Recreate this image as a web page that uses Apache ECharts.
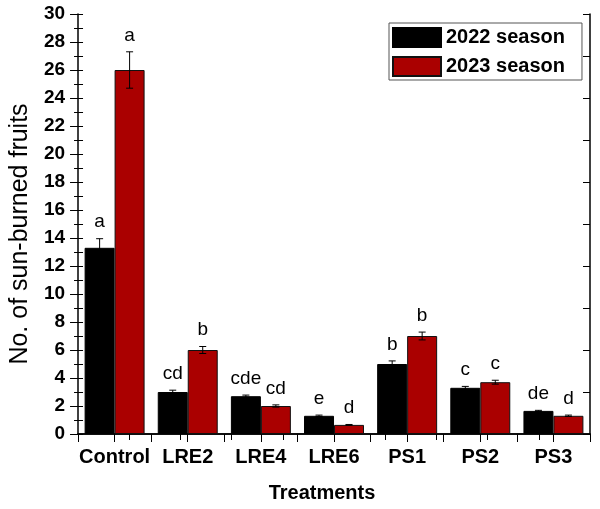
<!DOCTYPE html>
<html>
<head>
<meta charset="utf-8">
<script src="https://cdn.jsdelivr.net/npm/echarts@6/dist/echarts.min.js"></script>
<style>
  html, body { margin: 0; padding: 0; background: #fff; }
  #main { width: 600px; height: 509px; }
</style>
</head>
<body>
<div id="main"></div>
<script>
// treatments and values
const treatments = ["Control", "LRE2", "LRE4", "LRE6", "PS1", "PS2", "PS3"];
const season2022 = [13.3, 3.0, 2.7, 1.3, 5.0, 3.3, 1.65];
const season2023 = [26.0, 6.0, 2.0, 0.65, 7.0, 3.7, 1.3];
const err2022 = [0.65, 0.13, 0.08, 0.05, 0.22, 0.1, 0.04];
const err2023 = [1.3, 0.25, 0.08, 0.03, 0.28, 0.14, 0.05];
const letters2022 = ["a", "cd", "cde", "e", "b", "c", "de"];
const letters2023 = ["a", "b", "cd", "d", "b", "c", "d"];
const yTicks = [0, 30, 2]; // min, max, step

const font = "'Liberation Sans', Arial, sans-serif";
const gap = 0.18; // barCategoryGap

// error bar + letter for one season, side = -1 (left bar) or 1 (right bar)
function errSeries(vals, errs, letters, side) {
  return {
    type: "custom",
    z: 5,
    data: vals.map((v, i) => [i, v, errs[i], letters[i]]),
    renderItem(params, api) {
      const i = api.value(0);
      const v = api.value(1);
      const e = api.value(2);
      const catW = api.size([1, 0])[0];
      const barW = (catW * (1 - gap)) / 2;
      const c = api.coord([i, v]);
      const x = c[0] + (side * barW) / 2;
      const yTop = api.coord([i, v + e])[1];
      const yBot = api.coord([i, v - e])[1];
      const cap = 3.5;
      const st = { stroke: "#000", lineWidth: 1 };
      return {
        type: "group",
        children: [
          { type: "line", shape: { x1: x, y1: yTop, x2: x, y2: yBot }, style: st },
          { type: "line", shape: { x1: x - cap, y1: yTop, x2: x + cap, y2: yTop }, style: st },
          { type: "line", shape: { x1: x - cap, y1: yBot, x2: x + cap, y2: yBot }, style: st },
          {
            type: "text",
            style: {
              x: x,
              y: yTop - 7,
              text: api.value(3),
              align: "center",
              verticalAlign: "bottom",
              font: "19px " + font,
              fill: "#000",
            },
          },
        ],
      };
    },
  };
}

function tickAxis(extra) {
  return Object.assign(
    {
      type: "value",
      axisLine: { show: false },
      axisLabel: { show: false },
      splitLine: { show: false },
    },
    extra
  );
}

const myChart = echarts.init(document.getElementById("main"));
const option = {
  backgroundColor: "#fff",
  animation: false,
  textStyle: { fontFamily: font },
  grid: { left: 75, right: 10, top: 14, bottom: 75 },
  legend: {
    orient: "vertical",
    left: 389,
    top: 23,
    padding: [4, 17, 3, 3],
    itemGap: 8,
    itemWidth: 48,
    itemHeight: 19,
    icon: "rect",
    borderColor: "#555",
    borderWidth: 1,
    textStyle: { fontSize: 20, fontWeight: "bold", color: "#000" },
    data: ["2022 season", "2023 season"],
  },
  xAxis: [
    {
      type: "category",
      data: treatments,
      name: "Treatments",
      nameLocation: "middle",
      nameGap: 49,
      nameTextStyle: { fontSize: 20, fontWeight: "bold", color: "#000", padding: [0, 24, 0, 0] },
      axisLine: { lineStyle: { color: "#000", width: 1.5 } },
      axisTick: { show: false },
      axisLabel: { interval: 0, fontSize: 20, fontWeight: "bold", color: "#000", margin: 13 },
    },
    // ticks at centres and boundaries of each category
    tickAxis({
      position: "bottom",
      min: 0,
      max: 14,
      interval: 1,
      axisTick: { show: true, length: 8, lineStyle: { color: "#000" } },
    }),
    {
      type: "value",
      position: "top",
      min: 0,
      max: 10,
      interval: 1,
      axisLine: { show: true, lineStyle: { color: "#000", width: 1.5 } },
      axisTick: { show: true, inside: true, length: 6, lineStyle: { color: "#000" } },
      axisLabel: { show: false },
      splitLine: { show: false },
    },
  ],
  yAxis: [
    {
      type: "value",
      min: yTicks[0],
      max: yTicks[1],
      interval: yTicks[2],
      name: "No. of sun-burned fruits",
      nameLocation: "middle",
      nameGap: 45,
      nameTextStyle: { fontSize: 25, color: "#000", padding: [0, 20, 0, 0] },
      axisLine: { show: true, lineStyle: { color: "#000", width: 1.5 } },
      axisTick: { show: true, length: 8, lineStyle: { color: "#000" } },
      axisLabel: { fontSize: 19, fontWeight: "bold", color: "#000", margin: 13 },
      splitLine: { show: false },
    },
    tickAxis({
      position: "left",
      min: 0,
      max: 30,
      interval: 1,
      axisTick: { show: true, length: 4, lineStyle: { color: "#000" } },
    }),
    tickAxis({
      position: "left",
      min: 0,
      max: 30,
      interval: 1,
      axisTick: { show: true, inside: true, length: 5, lineStyle: { color: "#000" } },
    }),
    {
      type: "value",
      position: "right",
      min: 0,
      max: 30,
      interval: 3,
      axisLine: { show: true, lineStyle: { color: "#000", width: 1.5 } },
      axisTick: { show: true, inside: true, length: 7, lineStyle: { color: "#000" } },
      axisLabel: { show: false },
      splitLine: { show: false },
    },
  ],
  series: [
    {
      name: "2022 season",
      type: "bar",
      barGap: 0,
      barCategoryGap: gap * 100 + "%",
      itemStyle: { color: "#000", borderColor: "#000", borderWidth: 1 },
      data: season2022,
    },
    {
      name: "2023 season",
      type: "bar",
      barGap: 0,
      barCategoryGap: gap * 100 + "%",
      itemStyle: { color: "#aa0000", borderColor: "#111", borderWidth: 1 },
      data: season2023,
    },
    errSeries(season2022, err2022, letters2022, -1),
    errSeries(season2023, err2023, letters2023, 1),
  ],
};
myChart.setOption(option);
</script>
</body>
</html>
